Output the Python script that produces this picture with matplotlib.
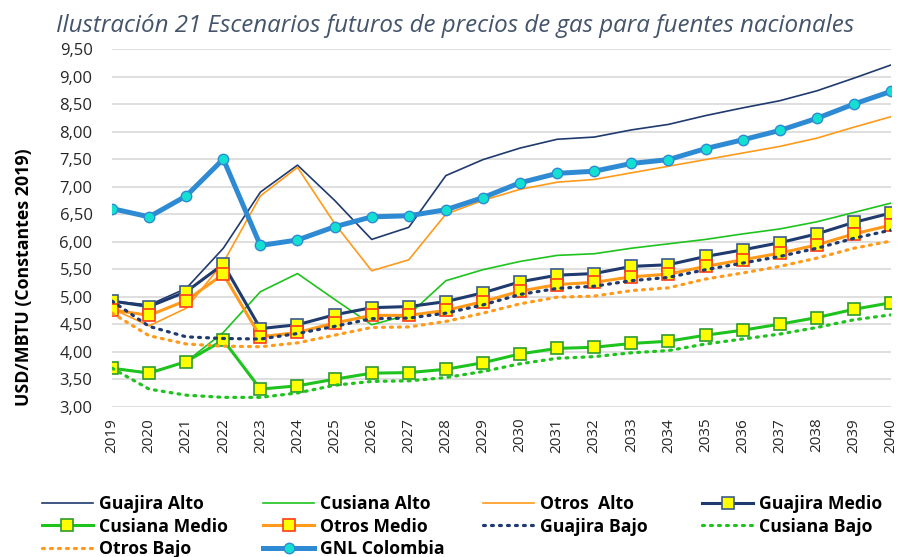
import matplotlib
matplotlib.use("Agg")
import matplotlib.pyplot as plt
from matplotlib.ticker import FuncFormatter


# DATA (USD/MBTU, constantes 2019)
years = list(range(2019, 2041))

guajira_alto = [4.92, 4.85, 5.15, 5.88, 6.90, 7.39, 6.75, 6.04, 6.26, 7.20, 7.49,
                7.70, 7.86, 7.90, 8.03, 8.13, 8.29, 8.43, 8.56, 8.74, 8.97, 9.21]
cusiana_alto = [3.70, 3.62, 3.82, 4.35, 5.09, 5.42, 4.95, 4.49, 4.67, 5.29, 5.49,
                5.64, 5.75, 5.78, 5.88, 5.96, 6.04, 6.14, 6.23, 6.36, 6.53, 6.70]
otros_alto = [4.78, 4.47, 4.79, 5.62, 6.83, 7.35, 6.33, 5.47, 5.67, 6.50, 6.75,
              6.95, 7.08, 7.13, 7.25, 7.37, 7.49, 7.61, 7.73, 7.88, 8.08, 8.27]
guajira_medio = [4.92, 4.82, 5.09, 5.59, 4.42, 4.49, 4.67, 4.80, 4.82, 4.91, 5.07,
                 5.27, 5.39, 5.42, 5.55, 5.58, 5.73, 5.85, 5.98, 6.14, 6.35, 6.52]
cusiana_medio = [3.70, 3.61, 3.82, 4.21, 3.32, 3.38, 3.50, 3.61, 3.62, 3.68, 3.80,
                 3.96, 4.06, 4.08, 4.15, 4.19, 4.30, 4.39, 4.50, 4.62, 4.77, 4.89]
otros_medio = [4.76, 4.66, 4.93, 5.41, 4.27, 4.35, 4.52, 4.66, 4.66, 4.75, 4.91,
               5.10, 5.22, 5.26, 5.36, 5.41, 5.55, 5.67, 5.79, 5.94, 6.14, 6.30]
guajira_bajo = [4.92, 4.46, 4.27, 4.24, 4.23, 4.33, 4.46, 4.60, 4.61, 4.70, 4.85,
                5.04, 5.15, 5.19, 5.29, 5.35, 5.49, 5.61, 5.73, 5.88, 6.06, 6.21]
cusiana_bajo = [3.70, 3.32, 3.21, 3.17, 3.17, 3.25, 3.39, 3.46, 3.47, 3.53, 3.64,
                3.78, 3.88, 3.91, 3.98, 4.02, 4.14, 4.23, 4.32, 4.44, 4.58, 4.67]
otros_bajo = [4.70, 4.29, 4.14, 4.10, 4.09, 4.16, 4.30, 4.44, 4.45, 4.55, 4.70,
              4.87, 4.99, 5.01, 5.11, 5.16, 5.32, 5.43, 5.55, 5.70, 5.88, 6.01]
gnl_colombia = [6.60, 6.45, 6.83, 7.50, 5.93, 6.03, 6.27, 6.45, 6.47, 6.58, 6.80,
                7.07, 7.24, 7.28, 7.42, 7.49, 7.69, 7.85, 8.02, 8.24, 8.50, 8.73]

y_ticks = [3.0, 3.5, 4.0, 4.5, 5.0, 5.5, 6.0, 6.5, 7.0, 7.5, 8.0, 8.5, 9.0, 9.5]

title = "Ilustración 21 Escenarios futuros de precios de gas para fuentes nacionales"


# COLOURS
navy = "#1F3A6E"
green = "#1EC31E"
orange = "#FF9A1A"
gnl_blue = "#2E8BD3"

plt.rcParams['font.family'] = ['Open Sans', 'DejaVu Sans']

fig = plt.figure(figsize=(9.02, 5.57), dpi=100)
ax = fig.add_axes([0.1242, 0.2698, 0.8636, 0.6422])

thin = 1.2
mid = 2.2
dot = 2.3
sq = 8
dots = (0, (0.6, 1.9))

# ALTO
h1, = ax.plot(years, guajira_alto, color=navy, lw=thin, label='Guajira Alto')
h2, = ax.plot(years, cusiana_alto, color=green, lw=thin, label='Cusiana Alto')
h3, = ax.plot(years, otros_alto, color=orange, lw=thin, label='Otros  Alto')

# MEDIO
h4, = ax.plot(years, guajira_medio, color=navy, lw=mid, marker='s', ms=sq,
              mfc='#FFFF00', mec='#3A5A8C', mew=1.2, label='Guajira Medio')
h5, = ax.plot(years, cusiana_medio, color=green, lw=mid, marker='s', ms=sq,
              mfc='#FFFF00', mec='#2E9A2E', mew=1.2, label='Cusiana Medio')
h6, = ax.plot(years, otros_medio, color=orange, lw=mid, marker='s', ms=sq,
              mfc='#FFFF00', mec='#FF3B1A', mew=1.2, label='Otros Medio')

# BAJO
h7, = ax.plot(years, guajira_bajo, color=navy, lw=dot, ls=dots,
              dash_capstyle='round', label='Guajira Bajo')
h8, = ax.plot(years, cusiana_bajo, color=green, lw=dot, ls=dots,
              dash_capstyle='round', label='Cusiana Bajo')
h9, = ax.plot(years, otros_bajo, color=orange, lw=dot, ls=dots,
              dash_capstyle='round', label='Otros Bajo')

# GNL
h10, = ax.plot(years, gnl_colombia, color=gnl_blue, lw=3.6, marker='o', ms=7.5,
               mfc='#14E0D2', mec='#2E8BD3', mew=1.0, label='GNL Colombia')

ax.set_xlim(2019, 2040)
ax.set_ylim(3.0, 9.5)
ax.set_yticks(y_ticks)
ax.yaxis.set_major_formatter(FuncFormatter(lambda v, p: f"{v:.2f}".replace('.', ',')))
ax.set_xticks(years)
ax.set_xticklabels([str(y) for y in years], rotation=90)
ax.tick_params(axis='y', length=0, pad=14, labelsize=12, colors='#262626')
ax.tick_params(axis='x', length=0, pad=8, labelsize=11, colors='#262626')
ax.grid(axis='y', color='#D9D9D9', lw=1.2)
ax.set_axisbelow(True)
for s in ax.spines.values():
    s.set_visible(False)

fig.text(0.027, 0.502, "USD/MBTU (Constantes 2019)", rotation=90, ha='center', va='center',
         fontsize=12.8, fontweight='bold', color='black')

fig.text(0.062, 0.9425, title, ha='left', va='baseline', fontsize=17.4, style='italic',
         color='#44546A')

# LEGEND, four columns placed like the original
columns = [([h1, h5, h9], 0.0462),
           ([h2, h6, h10], 0.2916),
           ([h3, h7], 0.5355),
           ([h4, h8], 0.7783)]
for hs, xpos in columns:
    fig.legend(handles=hs, labels=[h.get_label() for h in hs], loc='upper left',
               bbox_to_anchor=(xpos, 0.1113), frameon=False, borderpad=0,
               borderaxespad=0, handlelength=2.9, handletextpad=0.34,
               labelspacing=0.26, prop={'weight': 'bold', 'size': 12.7})

fig.savefig("out.png", dpi=100)
